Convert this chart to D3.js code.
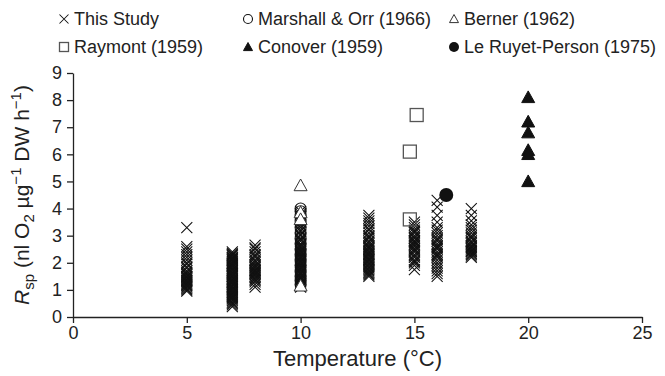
<!DOCTYPE html>
<html>
<head>
<meta charset="utf-8">
<script src="https://cdn.jsdelivr.net/npm/d3@7"></script>
<style>
body { margin: 0; background: #fff; }
text { font-family: "Liberation Sans", Arial, sans-serif; fill: #222; }
</style>
</head>
<body>
<div class="chart"></div>
<script>
var width = 665, height = 376;

// This Study: respiration values read per temperature column
var study5 = [3.3, 2.6, 2.5, 2.4, 2.3, 2.2, 2.1, 2.0, 1.95, 1.85, 1.8, 1.7, 1.65, 1.6, 1.55, 1.5, 1.45, 1.4, 1.35, 1.3, 1.25, 1.2, 1.15, 1.1, 1.05, 1.0, 0.95, 1.48, 1.33, 1.18];
var study7 = [2.4, 2.35, 2.3, 2.28, 2.2, 2.15, 2.1, 2.05, 2.0, 1.97, 1.9, 1.85, 1.8, 1.76, 1.7, 1.65, 1.6, 1.55, 1.5, 1.47, 1.4, 1.35, 1.3, 1.25, 1.2, 1.15, 1.1, 1.05, 1.0, 0.95, 0.9, 0.85, 0.8, 0.75, 0.7, 0.66, 0.6, 0.55, 0.5, 0.45, 0.38, 2.25, 2.12, 1.92, 1.72, 1.52, 1.32, 1.12, 0.92, 0.72, 1.62, 1.42, 2.18, 1.88, 1.58, 1.28, 1.02, 0.82];
var study8 = [2.65, 2.55, 2.5, 2.4, 2.3, 2.25, 2.2, 2.1, 2.05, 2.0, 1.9, 1.85, 1.8, 1.75, 1.7, 1.65, 1.6, 1.55, 1.5, 1.45, 1.4, 1.35, 1.3, 1.2, 1.1, 1.72, 1.62, 1.92];
var study10 = [3.9, 3.8, 3.7, 3.6, 3.5, 3.4, 3.3, 3.2, 3.15, 3.05, 3.0, 2.9, 2.85, 2.8, 2.7, 2.65, 2.6, 2.55, 2.5, 2.45, 2.4, 2.35, 2.3, 2.25, 2.2, 2.15, 2.1, 2.05, 2.0, 1.95, 1.9, 1.85, 1.8, 1.75, 1.7, 1.65, 1.6, 1.55, 1.5, 1.45, 1.4, 1.35, 1.3, 1.25, 1.2, 1.15, 1.1, 2.42, 2.22, 2.02, 1.82, 1.62, 1.42];
var study13 = [3.75, 3.65, 3.55, 3.45, 3.35, 3.25, 3.2, 3.1, 3.0, 2.95, 2.9, 2.8, 2.75, 2.7, 2.6, 2.55, 2.5, 2.45, 2.4, 2.35, 2.3, 2.25, 2.2, 2.15, 2.1, 2.05, 2.0, 1.95, 1.9, 1.85, 1.8, 1.75, 1.7, 1.65, 1.6, 1.55, 1.5, 2.62, 2.32, 2.12];
var study15 = [3.5, 3.4, 3.3, 3.2, 3.15, 3.1, 3.0, 2.95, 2.9, 2.8, 2.75, 2.7, 2.65, 2.6, 2.5, 2.45, 2.4, 2.3, 2.25, 2.2, 2.1, 2.05, 2.0, 1.9, 1.75, 2.82, 2.52];
var study16 = [4.3, 4.05, 3.75, 3.5, 3.3, 3.2, 3.1, 3.0, 2.9, 2.85, 2.8, 2.7, 2.6, 2.55, 2.5, 2.4, 2.3, 2.25, 2.2, 2.1, 2.0, 1.9, 1.8, 1.7, 1.6, 1.5, 2.62, 2.32];
var study175 = [4.0, 3.75, 3.55, 3.4, 3.3, 3.2, 3.1, 3.0, 2.95, 2.9, 2.8, 2.75, 2.7, 2.6, 2.55, 2.5, 2.45, 2.4, 2.35, 2.3, 2.25, 2.2, 2.62, 2.42];

var studyTemps = [5, 7, 8, 10, 13, 15, 16, 17.5];
var studyValues = [study5, study7, study8, study10, study13, study15, study16, study175];

// literature points: [temperature, respiration]
var marshall = [[10, 4.0], [10, 3.9], [10, 3.75], [10, 3.55], [10, 3.3], [10, 3.1], [10, 2.9], [10, 2.7], [10, 2.5], [10, 2.3], [10, 2.1], [10, 1.9], [10, 1.7], [10, 1.5], [10, 1.35], [10, 1.2]];
var berner = [[10, 4.85], [10, 3.85], [10, 3.6], [10, 1.15]];
var raymont = [[15.1, 7.45], [14.8, 6.1], [14.8, 3.6]];
var conover = [[20, 8.1], [20, 7.2], [20, 6.8], [20, 6.15], [20, 6.0], [20, 5.0]];
var leRuyet = [[16.4, 4.5]];

var xTicks = [0, 5, 10, 15, 20, 25];
var yTicks = [0, 1, 2, 3, 4, 5, 6, 7, 8, 9];

var legendRows = [
	[{ name: 'This Study', sym: 'cross' }, { name: 'Marshall & Orr (1966)', sym: 'circle' }, { name: 'Berner (1962)', sym: 'triangle' }],
	[{ name: 'Raymont (1959)', sym: 'square' }, { name: 'Conover (1959)', sym: 'triFill' }, { name: 'Le Ruyet-Person (1975)', sym: 'dot' }]
];

var margin = { left: 73, right: 23, top: 73, bottom: 59 };

var svg = d3.select('.chart')
	.append('svg')
	.attr('width', width)
	.attr('height', height);

var x = d3.scaleLinear().domain([0, 25]).range([margin.left, width - margin.right]);
var y = d3.scaleLinear().domain([0, 9]).range([height - margin.bottom, margin.top]);

// axes
svg.append('g')
	.attr('transform', 'translate(0,' + y(0) + ')')
	.call(d3.axisBottom(x).tickValues(xTicks).tickSize(6).tickPadding(3).tickSizeOuter(0));
svg.append('g')
	.attr('transform', 'translate(' + x(0) + ',0)')
	.call(d3.axisLeft(y).tickValues(yTicks).tickSize(6).tickPadding(5).tickSizeOuter(0));

svg.selectAll('.domain').attr('stroke', '#222').attr('stroke-width', 1.3);
svg.selectAll('.tick line').attr('stroke', '#222').attr('stroke-width', 1.3);
svg.selectAll('.tick text').style('font-size', '18px').attr('fill', '#222');

// symbol painters
function drawSymbol(g, sym, cx, cy, s) {
	if (sym == 'cross') {
		g.append('path')
			.attr('d', 'M' + (cx - s) + ',' + (cy - s) + 'L' + (cx + s) + ',' + (cy + s) + 'M' + (cx - s) + ',' + (cy + s) + 'L' + (cx + s) + ',' + (cy - s))
			.attr('stroke', '#111').attr('stroke-width', 1.05).attr('fill', 'none');
	} else if (sym == 'circle') {
		g.append('circle').attr('cx', cx).attr('cy', cy).attr('r', s)
			.attr('fill', 'none').attr('stroke', '#111').attr('stroke-width', 1.1);
	} else if (sym == 'dot') {
		g.append('circle').attr('cx', cx).attr('cy', cy).attr('r', s)
			.attr('fill', '#111');
	} else if (sym == 'square') {
		g.append('rect').attr('x', cx - s).attr('y', cy - s).attr('width', 2 * s).attr('height', 2 * s)
			.attr('fill', 'none').attr('stroke', '#555').attr('stroke-width', 1.3);
	} else {
		g.append('path')
			.attr('d', 'M' + cx + ',' + (cy - s) + 'L' + (cx + s) + ',' + (cy + s * 0.8) + 'L' + (cx - s) + ',' + (cy + s * 0.8) + 'Z')
			.attr('fill', sym == 'triFill' ? '#111' : '#fff')
			.attr('stroke', sym == 'triFill' ? '#111' : '#333').attr('stroke-width', 1);
	}
}

var marks = svg.append('g').attr('class', 'marks');

studyValues.forEach(function(list, i) {
	list.forEach(function(v) {
		drawSymbol(marks, 'cross', x(studyTemps[i]), y(v), 5.5);
	});
});
marshall.forEach(function(d) { drawSymbol(marks, 'circle', x(d[0]), y(d[1]), 5.5); });
berner.forEach(function(d) { drawSymbol(marks, 'triangle', x(d[0]), y(d[1]), 6.5); });
raymont.forEach(function(d) { drawSymbol(marks, 'square', x(d[0]), y(d[1]), 6.5); });
conover.forEach(function(d) { drawSymbol(marks, 'triFill', x(d[0]), y(d[1]), 6.5); });
leRuyet.forEach(function(d) { drawSymbol(marks, 'dot', x(d[0]), y(d[1]), 7); });

// legend
var legend = svg.append('g').attr('class', 'legend');
var colX = [64, 248, 454];
var rowY = [19, 47];
legendRows.forEach(function(row, r) {
	row.forEach(function(item, c) {
		drawSymbol(legend, item.sym, colX[c], rowY[r], item.sym == 'dot' ? 5 : 4.5);
		legend.append('text')
			.attr('x', colX[c] + 10)
			.attr('y', rowY[r])
			.attr('dy', '0.35em')
			.style('font-size', '18px')
			.text(item.name);
	});
});

// axis titles
svg.append('text')
	.attr('x', (x(0) + x(25)) / 2)
	.attr('y', 366)
	.attr('text-anchor', 'middle')
	.style('font-size', '22px')
	.text('Temperature (°C)');

var yTitle = svg.append('text')
	.attr('transform', 'translate(29,' + (y(0) + y(9)) / 2 + ') rotate(-90)')
	.attr('text-anchor', 'middle')
	.style('font-size', '21px');
yTitle.append('tspan').style('font-style', 'italic').text('R');
yTitle.append('tspan').attr('dy', 5).style('font-size', '15px').text('sp');
yTitle.append('tspan').attr('dy', -5).text(' (nl O');
yTitle.append('tspan').attr('dy', 5).style('font-size', '15px').text('2');
yTitle.append('tspan').attr('dy', -5).text(' µg');
yTitle.append('tspan').attr('dy', -8).style('font-size', '15px').text('−1');
yTitle.append('tspan').attr('dy', 8).text(' DW h');
yTitle.append('tspan').attr('dy', -8).style('font-size', '15px').text('−1');
yTitle.append('tspan').attr('dy', 8).text(')');
</script>
</body>
</html>
